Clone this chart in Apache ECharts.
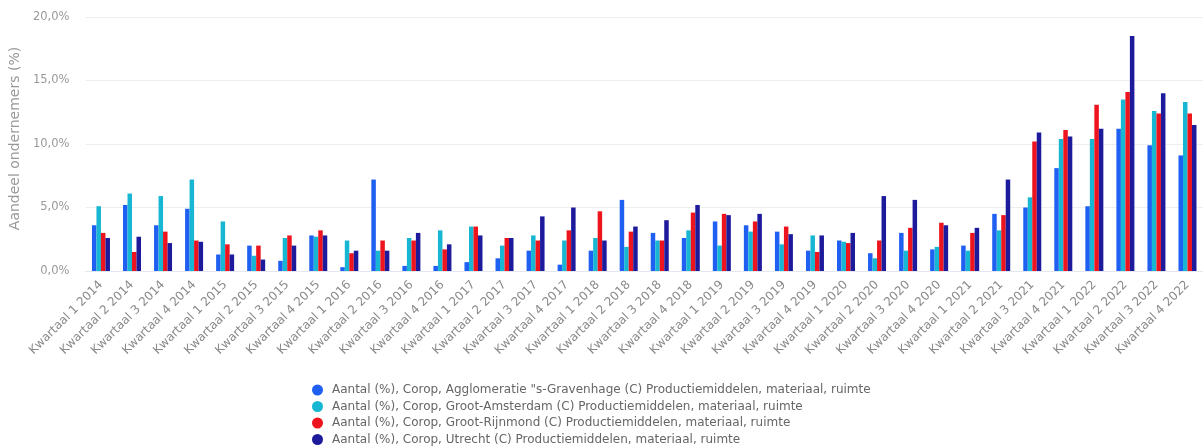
<!DOCTYPE html>
<html>
<head>
<meta charset="utf-8">
<script src="https://cdn.jsdelivr.net/npm/echarts@6/dist/echarts.min.js"></script>
<style>
html,body{margin:0;padding:0;background:#fff;}
#chart{width:1203px;height:448px;}
</style>
</head>
<body>
<div id="chart"></div>
<script>
const categories = [
  "Kwartaal 1 2014","Kwartaal 2 2014","Kwartaal 3 2014","Kwartaal 4 2014",
  "Kwartaal 1 2015","Kwartaal 2 2015","Kwartaal 3 2015","Kwartaal 4 2015",
  "Kwartaal 1 2016","Kwartaal 2 2016","Kwartaal 3 2016","Kwartaal 4 2016",
  "Kwartaal 1 2017","Kwartaal 2 2017","Kwartaal 3 2017","Kwartaal 4 2017",
  "Kwartaal 1 2018","Kwartaal 2 2018","Kwartaal 3 2018","Kwartaal 4 2018",
  "Kwartaal 1 2019","Kwartaal 2 2019","Kwartaal 3 2019","Kwartaal 4 2019",
  "Kwartaal 1 2020","Kwartaal 2 2020","Kwartaal 3 2020","Kwartaal 4 2020",
  "Kwartaal 1 2021","Kwartaal 2 2021","Kwartaal 3 2021","Kwartaal 4 2021",
  "Kwartaal 1 2022","Kwartaal 2 2022","Kwartaal 3 2022","Kwartaal 4 2022"
];
const seriesNames = [
  "Aantal (%), Corop, Agglomeratie \"s-Gravenhage (C) Productiemiddelen, materiaal, ruimte",
  "Aantal (%), Corop, Groot-Amsterdam (C) Productiemiddelen, materiaal, ruimte",
  "Aantal (%), Corop, Groot-Rijnmond (C) Productiemiddelen, materiaal, ruimte",
  "Aantal (%), Corop, Utrecht (C) Productiemiddelen, materiaal, ruimte"
];
const denHaag = [3.6,5.2,3.6,4.9,1.3,2.0,0.8,2.8,0.3,7.2,0.4,0.4,0.7,1.0,1.6,0.5,1.6,5.6,3.0,2.6,3.9,3.6,3.1,1.6,2.4,1.4,3.0,1.7,2.0,4.5,5.0,8.1,5.1,11.2,9.9,9.1];
const amsterdam = [5.1,6.1,5.9,7.2,3.9,1.2,2.6,2.7,2.4,1.6,2.6,3.2,3.5,2.0,2.8,2.4,2.6,1.9,2.4,3.2,2.0,3.1,2.1,2.8,2.3,1.0,1.6,1.9,1.6,3.2,5.8,10.4,10.4,13.5,12.6,13.3];
const rijnmond = [3.0,1.5,3.1,2.4,2.1,2.0,2.8,3.2,1.4,2.4,2.4,1.7,3.5,2.6,2.4,3.2,4.7,3.1,2.4,4.6,4.5,3.9,3.5,1.5,2.2,2.4,3.4,3.8,3.0,4.4,10.2,11.1,13.1,14.1,12.4,12.4];
const utrecht = [2.6,2.7,2.2,2.3,1.3,0.9,2.0,2.8,1.6,1.6,3.0,2.1,2.8,2.6,4.3,5.0,2.4,3.5,4.0,5.2,4.4,4.5,2.9,2.8,3.0,5.9,5.6,3.6,3.4,7.2,10.9,10.6,11.2,18.5,14.0,11.5];
const yTicks = [0,5,10,15,20];
const colors = ["#1f5ff2","#17b6d2","#ee141d","#1d1a9c"];

const chart = echarts.init(document.getElementById('chart'));
const allSeries = [denHaag, amsterdam, rijnmond, utrecht].map((d, i) => ({
  name: seriesNames[i],
  type: 'bar',
  data: d,
  barWidth: 4.5,
  barGap: '0%',
  itemStyle: { color: colors[i] }
}));

const FONT = 'DejaVu Sans';
chart.setOption({
  animation: false,
  backgroundColor: '#ffffff',
  color: colors,
  grid: { left: 84, top: 17, width: 1127, height: 254, containLabel: false },
  legend: {
    orient: 'vertical',
    left: 312,
    top: 384,
    height: 80,
    padding: 0,
    icon: 'circle',
    itemWidth: 11,
    itemHeight: 11,
    itemGap: 4.5,
    textStyle: { fontFamily: FONT, fontSize: 12, color: '#666', padding: [0, 0, 0, 4] },
    data: seriesNames
  },
  xAxis: {
    type: 'category',
    data: categories,
    axisTick: { show: false },
    axisLine: { lineStyle: { color: '#e3e7f0' } },
    axisLabel: {
      interval: 0,
      rotate: 45,
      margin: 12,
      fontFamily: FONT,
      fontSize: 12,
      color: '#8a8a8a'
    }
  },
  yAxis: {
    type: 'value',
    min: yTicks[0],
    max: yTicks[yTicks.length - 1],
    interval: 5,
    name: 'Aandeel ondernemers (%)',
    nameLocation: 'middle',
    nameGap: 58,
    nameTextStyle: { fontFamily: FONT, fontSize: 14, color: '#999', padding: [0, 0, 0, 11] },
    axisLabel: {
      fontFamily: FONT,
      fontSize: 11.5,
      color: '#999',
      margin: 16,
      formatter: v => v.toFixed(1).replace('.', ',') + '%'
    },
    splitLine: { lineStyle: { color: '#eeeeee' } },
    axisLine: { show: false },
    axisTick: { show: false }
  },
  series: allSeries
});
</script>
</body>
</html>
